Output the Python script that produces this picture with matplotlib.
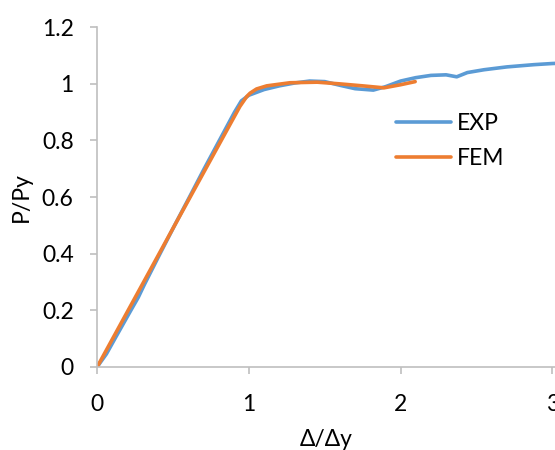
import matplotlib
matplotlib.use("Agg")
import matplotlib.pyplot as plt

# Load-displacement data
exp_x = [0, 0.06, 0.117, 0.222, 0.27, 0.31, 0.414, 0.51, 0.608, 0.705,
         0.805, 0.85, 0.905, 0.95, 1.0, 1.1, 1.2, 1.3, 1.4, 1.5, 1.6, 1.7,
         1.82, 1.9, 2.0, 2.1, 2.2, 2.3, 2.37, 2.44, 2.55, 2.7, 2.88, 3.0, 3.05]
exp_y = [0, 0.045, 0.1, 0.2, 0.245, 0.29, 0.4, 0.5, 0.6, 0.7, 0.8, 0.845,
         0.9, 0.94, 0.96, 0.98, 0.993, 1.003, 1.01, 1.008, 0.995, 0.983,
         0.978, 0.99, 1.01, 1.022, 1.03, 1.032, 1.025, 1.04, 1.05, 1.06,
         1.068, 1.072, 1.073]

fem_x = [0, 0.2, 0.5, 0.94, 0.985, 1.007, 1.05, 1.117, 1.27, 1.45, 1.6,
         1.75, 1.89, 2.0, 2.096]
fem_y = [0, 0.196, 0.49, 0.92, 0.955, 0.967, 0.982, 0.993, 1.004, 1.006, 1.0,
         0.993, 0.986, 0.997, 1.008]

x_ticks = [0, 1, 2, 3]
y_ticks = [0, 0.2, 0.4, 0.6, 0.8, 1.0, 1.2]
y_tick_labels = ["0", "0.2", "0.4", "0.6", "0.8", "1", "1.2"]

plt.rcParams["font.family"] = ["Lato", "DejaVu Sans"]
axis_gray = "#BFBFBF"

fig = plt.figure(figsize=(5.55, 4.5), dpi=100)
ax = fig.add_axes([0.1753, 0.1851, 0.8247, 0.7542])

ax.plot(exp_x, exp_y, color="#5B9BD5", linewidth=2.6, label="EXP",
        solid_capstyle="round")
ax.plot(fem_x, fem_y, color="#ED7D31", linewidth=2.6, label="FEM",
        solid_capstyle="round")

ax.set_xlim(0, 3.018)
ax.set_ylim(0, 1.2)
ax.set_xticks(x_ticks)
ax.set_yticks(y_ticks)
ax.set_yticklabels(y_tick_labels)

for side in ["top", "right"]:
    ax.spines[side].set_visible(False)
for side in ["left", "bottom"]:
    ax.spines[side].set_color(axis_gray)
    ax.spines[side].set_linewidth(1.2)

ax.tick_params(axis="both", colors=axis_gray, length=5, width=1.2,
               labelcolor="black", labelsize=16.5)
ax.tick_params(axis="y", pad=12)
ax.tick_params(axis="x", pad=15)

ax.set_xlabel("Δ/Δy", fontsize=16.5, labelpad=10)
ax.set_ylabel("P/Py", fontsize=16.5, labelpad=7)

ax.legend(loc="upper left", bbox_to_anchor=(0.628, 0.78), frameon=False,
          fontsize=16.5, handlelength=2.4, handletextpad=0.25,
          labelspacing=0.6, borderpad=0)

fig.savefig("out.png", dpi=100)
